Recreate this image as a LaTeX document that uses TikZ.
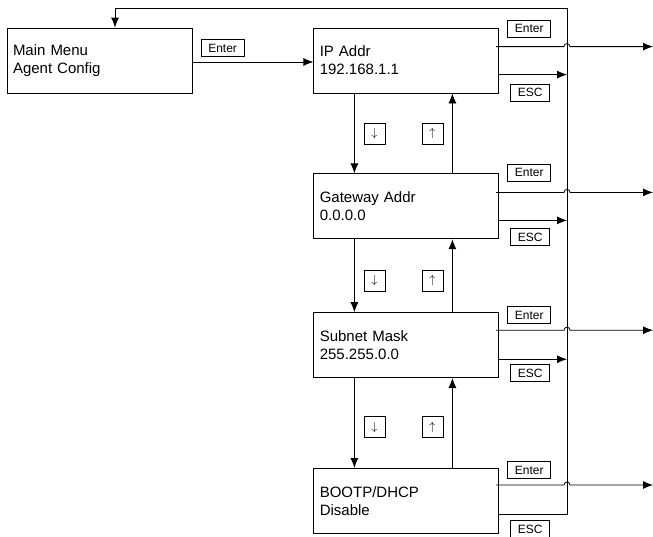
\documentclass[tikz,border=0pt]{standalone}
\usepackage{fontspec}
\setmainfont{Liberation Sans}
\usetikzlibrary{arrows.meta, positioning, calc}

\begin{document}
\begin{tikzpicture}[
          x=1pt, y=-1pt,
          line width=0.8pt,
          screen/.style={rectangle, draw, minimum width=185pt, minimum height=65pt, text width=173pt, inner xsep=6pt, align=left, font=\fontsize{15}{18}\selectfont},
          keylabel/.style={rectangle, draw, inner xsep=7pt, inner ysep=0pt, minimum height=17pt, font=\fontsize{12}{14}\selectfont},
          arrowkey/.style={rectangle, draw, minimum size=21pt, inner sep=0pt, font=\fontsize{12}{14}\selectfont},
          arrow/.style={-{Latex[length=10pt,width=8pt]}}
        ]
          \useasboundingbox (0,0) rectangle (653,536);

          \node (main) [screen] at (99.5,60.5) {Main Menu\\Agent Config};
          \node (ip) [screen, right=121pt of main] {IP Addr\\192.168.1.1};
          \node (gw) [screen, below=80pt of ip] {Gateway Addr\\0.0.0.0};
          \node (mask) [screen, below=73pt of gw] {Subnet Mask\\255.255.0.0};
          \node (boot) [screen, below=90pt of mask] {BOOTP/DHCP\\Disable};

          \coordinate (bus) at (567,8);
          \coordinate (out) at (653,8);

          % main menu -> first screen
          \draw [arrow] (main.east |- 0,62) -- (ip.west |- 0,62) node (mainenter) [keylabel, pos=0.25, above=5pt] {Enter};

          % down / up keys
          \draw [arrow] ([xshift=41pt]ip.south west) -- ([xshift=41pt]gw.north west) node (ipdown) [arrowkey, midway, xshift=20pt] {$\downarrow$};
          \draw [arrow] ([xshift=139pt]gw.north west) -- ([xshift=139pt]ip.south west) node (gwup) [arrowkey, midway, xshift=-20pt] {$\uparrow$};
          \draw [arrow] ([xshift=41pt]gw.south west) -- ([xshift=41pt]mask.north west) node (gwdown) [arrowkey, midway, xshift=20pt, yshift=-5pt] {$\downarrow$};
          \draw [arrow] ([xshift=139pt]mask.north west) -- ([xshift=139pt]gw.south west) node (maskup) [arrowkey, midway, xshift=-20pt, yshift=-5pt] {$\uparrow$};
          \draw [arrow] ([xshift=41pt]mask.south west) -- ([xshift=41pt]boot.north west) node (maskdown) [arrowkey, midway, xshift=20pt, yshift=-4pt] {$\downarrow$};
          \draw [arrow] ([xshift=139pt]boot.north west) -- ([xshift=139pt]mask.south west) node (bootup) [arrowkey, midway, xshift=-20pt, yshift=-4pt] {$\uparrow$};

          % Enter lines, hopping over the ESC bus
          \draw [arrow] ([xshift=-3pt,yshift=-19pt]ip.north east) coordinate (ipin) -- ($(ipin -| bus)+(-3pt,0)$) .. controls +(0,4pt) and +(0,4pt) .. ++(6pt,0) -- (ipin -| out);
          \draw [arrow] ([xshift=-3pt,yshift=-19pt]gw.north east) coordinate (gwin) -- ($(gwin -| bus)+(-3pt,0)$) .. controls +(0,4pt) and +(0,4pt) .. ++(6pt,0) -- (gwin -| out);
          \draw [arrow] ([xshift=-3pt,yshift=-18pt]mask.north east) coordinate (maskin) -- ($(maskin -| bus)+(-3pt,0)$) .. controls +(0,4pt) and +(0,4pt) .. ++(6pt,0) -- (maskin -| out);
          \draw [arrow] ([xshift=-3pt,yshift=-17pt]boot.north east) coordinate (bootin) -- ($(bootin -| bus)+(-3pt,0)$) .. controls +(0,4pt) and +(0,4pt) .. ++(6pt,0) -- (bootin -| out);

          \node (ipenter) [keylabel] at ([xshift=30pt,yshift=-1pt]ip.north east) {Enter};
          \node (gwenter) [keylabel] at ([xshift=30pt,yshift=1pt]gw.north east) {Enter};
          \node (maskenter) [keylabel] at ([xshift=30pt,yshift=-3pt]mask.north east) {Enter};
          \node (bootenter) [keylabel] at ([xshift=30pt,yshift=-2pt]boot.north east) {Enter};

          % ESC lines to the bus
          \draw [arrow] ([yshift=-47pt]ip.north east) coordinate (ipesc) -- (ipesc -| bus);
          \draw [arrow] ([yshift=-47pt]gw.north east) coordinate (gwesc) -- (gwesc -| bus);
          \draw [arrow] ([yshift=-47pt]mask.north east) coordinate (maskesc) -- (maskesc -| bus);
          \draw [arrow] ([yshift=-46pt]boot.north east) coordinate (bootesc) -| (bus) -| ([xshift=15.5pt]main.north);

          \node (ipesckey) [keylabel, anchor=north] at ([xshift=31pt,yshift=-9pt]ipesc) {ESC};
          \node (gwesckey) [keylabel, anchor=north] at ([xshift=31pt,yshift=-8pt]gwesc) {ESC};
          \node (maskesckey) [keylabel, anchor=north] at ([xshift=31pt,yshift=-5pt]maskesc) {ESC};
          \node (bootesckey) [keylabel, anchor=north] at ([xshift=31pt,yshift=-6pt]bootesc) {ESC};
        \end{tikzpicture}
\end{document}
